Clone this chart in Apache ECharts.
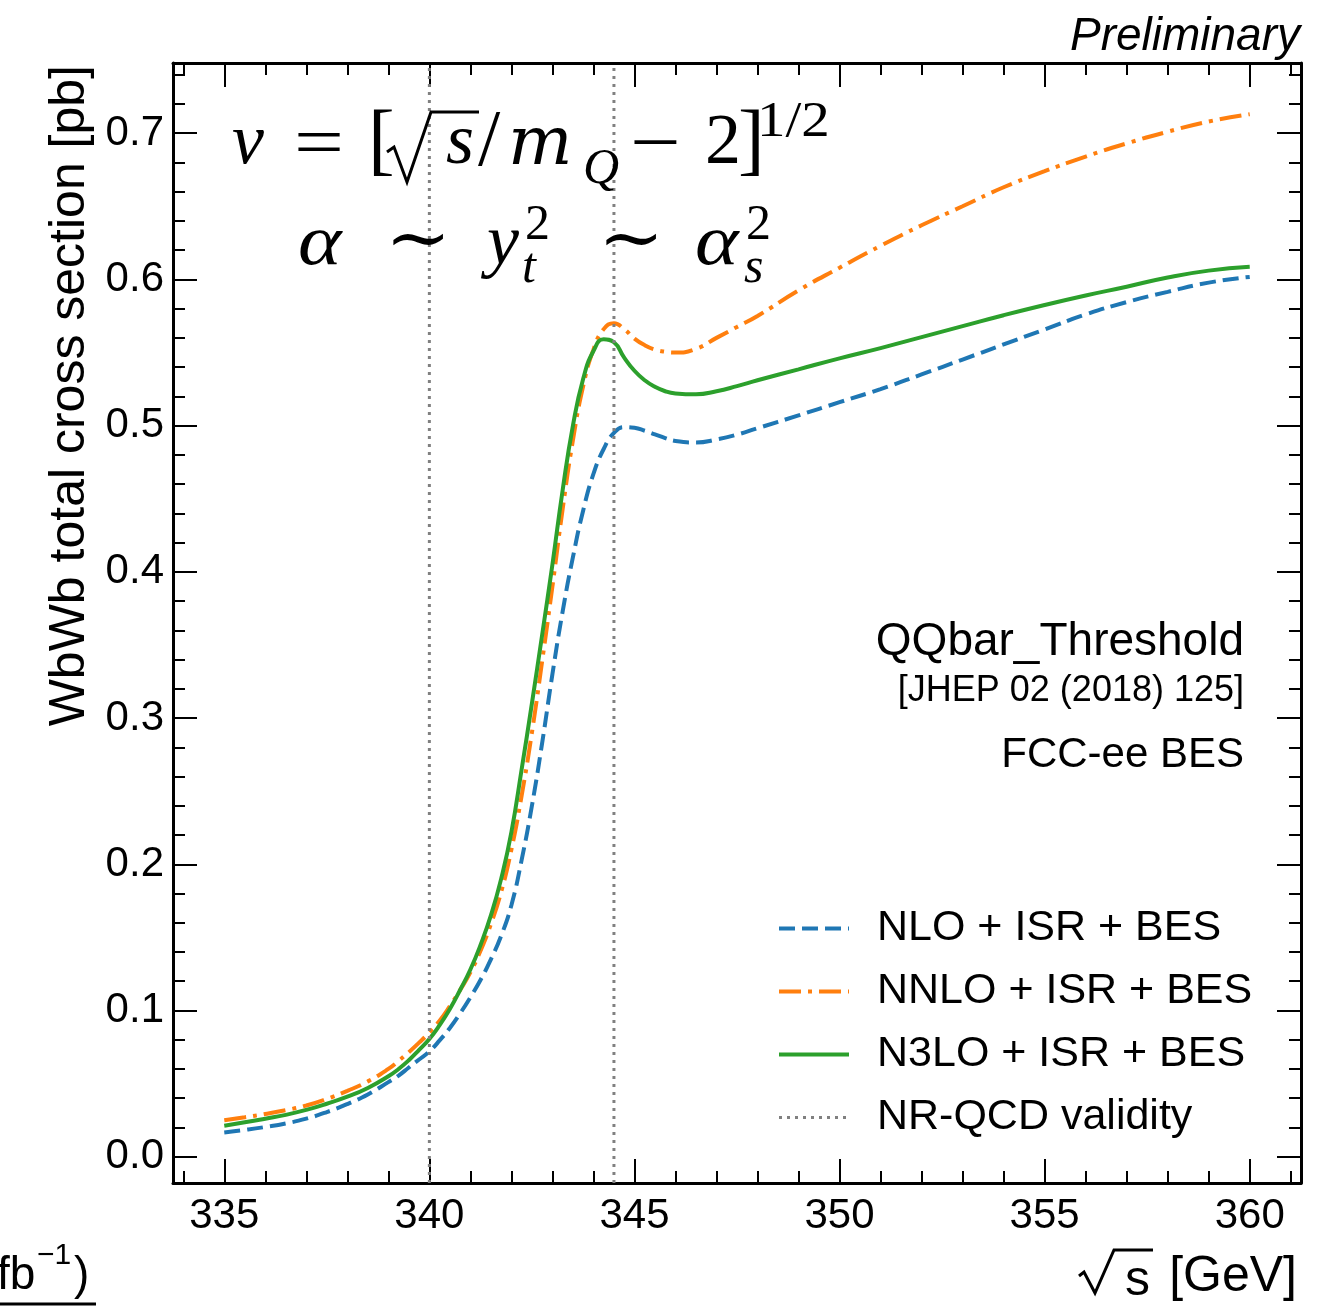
<!DOCTYPE html>
<html><head><meta charset="utf-8">
<script src="https://cdn.jsdelivr.net/npm/echarts@6/dist/echarts.min.js"></script>
<style>html,body{margin:0;padding:0;background:#fff}#c{width:1333px;height:1309px}</style>
</head><body><div id="c"></div>
<script>
// ---- data ----
const energies = [335,335.5,336,336.5,337,337.5,338,338.5,339,
  339.25,339.5,339.75,340,340.25,340.5,340.75,341,341.25,341.5,341.75,342,342.25,342.5,342.75,
  343,343.25,343.5,343.75,344,344.25,344.5,344.75,345,345.25,345.5,345.75,346,
  346.5,347,347.5,348,
  349,350,351,352,353,354,355,356,357,358,359,360];
const nloXsec = [0.0166,0.0183,0.0203,0.0227,0.026,0.0305,0.036,0.0425,0.051,
  0.0555,0.061,0.0665,0.072,0.0795,0.088,0.098,0.109,0.121,0.135,0.151,0.172,0.203,0.24,0.283,
  0.33,0.373,0.41,0.442,0.467,0.484,0.495,0.499,0.4985,0.4965,0.494,0.4915,0.4895,
  0.4885,0.4905,0.4938,0.4982,
  0.507,0.516,0.525,0.535,0.5452,0.5555,0.5658,0.576,0.5845,0.5915,0.5978,0.6017];
const nnloXsec = [0.0249,0.027,0.0292,0.0318,0.035,0.0395,0.045,0.0515,0.060,
  0.0655,0.0715,0.078,0.085,0.093,0.103,0.114,0.126,0.141,0.159,0.181,0.210,0.247,0.29,0.339,
  0.39,0.443,0.49,0.527,0.552,0.566,0.570,0.566,0.5595,0.555,0.552,0.5505,0.550,
  0.5525,0.560,0.5675,0.575,
  0.5925,0.608,0.623,0.637,0.650,0.663,0.674,0.684,0.693,0.701,0.708,0.713];
const n3loXsec = [0.0212,0.0235,0.026,0.0286,0.032,0.0362,0.041,0.047,0.055,
  0.060,0.066,0.073,0.0805,0.090,0.101,0.114,0.128,0.145,0.165,0.19,0.222,0.265,0.31,0.357,
  0.405,0.456,0.50,0.532,0.551,0.559,0.557,0.5465,0.5375,0.531,0.5265,0.5235,0.522,
  0.5214,0.5235,0.527,0.531,
  0.5385,0.546,0.553,0.5605,0.568,0.5755,0.5825,0.589,0.595,0.6013,0.606,0.6086];
const nrqcdBounds = [340, 344.5];
const seriesNames = ['NLO + ISR + BES','NNLO + ISR + BES','N3LO + ISR + BES','NR-QCD validity'];
const xMajorTicks = [335,340,345,350,355,360];
const xMinorTicks = [334,335,336,337,338,339,340,341,342,343,344,345,346,347,348,349,350,351,352,353,354,355,356,357,358,359,360,361];
const yMajorTicks = [0,0.1,0.2,0.3,0.4,0.5,0.6,0.7];
const yMinorTicks = [0,0.02,0.04,0.06,0.08,0.1,0.12,0.14,0.16,0.18,0.2,0.22,0.24,0.26,0.28,0.3,0.32,0.34,0.36,0.38,0.4,0.42,0.44,0.46,0.48,0.5,0.52,0.54,0.56,0.58,0.6,0.62,0.64,0.66,0.68,0.7,0.72,0.74];
const xRange = [333.75, 361.25];
const yRange = [-0.018, 0.748];

// ---- chart ----
const SANS = '"Liberation Sans", Arial, sans-serif';
const SERIF = '"Liberation Serif", "DejaVu Serif", serif';
const pair = ys => energies.map((x, i) => [x, ys[i]]);
const vlines = [];
nrqcdBounds.forEach((b, i) => {
  if (i > 0) vlines.push([(nrqcdBounds[i-1] + b) / 2, '-']);
  vlines.push([b, yRange[0]]); vlines.push([b, yRange[1]]);
});

function xAxisDef(pos, ticks, len, labels, line) {
  return {
    type: 'value', position: pos, min: xRange[0], max: xRange[1], offset: 0,
    axisLine: {show: line, onZero: false, lineStyle: {color: '#000', width: 3}},
    axisTick: {show: true, inside: true, length: len, customValues: ticks, lineStyle: {color: '#000', width: 2}},
    axisLabel: labels ? {show: true, customValues: xMajorTicks, fontSize: 42, fontFamily: SANS, color: '#000', margin: 12} : {show: false},
    splitLine: {show: false}
  };
}
function yAxisDef(pos, ticks, len, labels, line) {
  return {
    type: 'value', position: pos, min: yRange[0], max: yRange[1], offset: 0,
    axisLine: {show: line, onZero: false, lineStyle: {color: '#000', width: 3}},
    axisTick: {show: true, inside: true, length: len, customValues: ticks, lineStyle: {color: '#000', width: 2}},
    axisLabel: labels ? {show: true, customValues: yMajorTicks, fontSize: 42, fontFamily: SANS, color: '#000', margin: 9,
      formatter: v => v.toFixed(1)} : {show: false},
    splitLine: {show: false}
  };
}

function txt(text, x, y, size, opts) {
  opts = opts || {};
  return {type: 'text', x: x, y: y, rotation: opts.rot || 0, scaleX: opts.sx || 1, z: 100,
    style: {text: text, fill: '#000',
      font: (opts.italic ? 'italic ' : '') + size + 'px ' + (opts.family || SANS),
      align: opts.align || 'left', verticalAlign: opts.va || 'middle'}};
}
function ln(x1, y1, x2, y2, w) {
  return {type: 'line', z: 100, shape: {x1, y1, x2, y2}, style: {stroke: '#000', lineWidth: w}};
}
function poly(points, w) {
  return {type: 'polyline', z: 100, shape: {points}, style: {stroke: '#000', lineWidth: w, fill: null, lineJoin: 'miter'}};
}
const MI = {italic: true, family: SERIF};
const MR = {family: SERIF};

const graphics = [
  txt('Preliminary', 1300, 37, 46, {italic: true, align: 'right'}),
  txt('WbWb total cross section [pb]', 70, 65, 50, {rot: Math.PI / 2, align: 'right'}),
  txt('[GeV]', 1297, 1277, 50, {align: 'right'}),
  txt('s', 1150, 1281, 50, {align: 'right'}),
  poly([[1079, 1276], [1084, 1272], [1095, 1293], [1114, 1250], [1153, 1250]], 3),
  txt('QQbar_Threshold', 1244, 642, 46, {align: 'right'}),
  txt('[JHEP 02 (2018) 125]', 1244, 691, 36, {align: 'right'}),
  txt('FCC-ee BES', 1244, 755, 42, {align: 'right'}),
  // cut-off text in lower-left corner
  txt('fb', -3, 1276, 46),
  txt('\u22121', 37, 1256, 30),
  txt(')', 74, 1276, 46),
  ln(0, 1304, 96, 1304, 3),
  // formula line 1
  txt('v', 232, 144, 72, MI),
  txt('=', 294, 147, 72, {family: SERIF, sx: 1.23}),
  txt('[', 368, 144, 80, MR),
  poly([[387, 152], [394, 147], [407, 182], [431, 112], [479, 112]], 3),
  txt('s', 446, 144, 72, MI),
  txt('/', 478, 144, 80, MR),
  txt('m', 508, 146, 68, {italic: true, family: '"DejaVu Serif", serif'}),
  txt('Q', 583, 170, 50, MI),
  txt('\u2212', 630, 147, 72, {family: SERIF, sx: 1.25}),
  txt('2', 705, 144, 72, MR),
  txt(']', 738, 144, 80, MR),
  txt('1/2', 757, 123, 50, {family: SERIF, sx: 1.14}),
  // formula line 2
  txt('\u03B1', 298, 245, 72, {italic: true, family: SERIF, sx: 1.15}),
  txt('\u223C', 385, 243, 72, {family: SERIF, sx: 1.1}),
  txt('y', 487, 245, 72, MI),
  txt('t', 522, 269, 50, MI),
  txt('2', 525, 226, 50, MR),
  txt('\u223C', 598, 243, 72, {family: SERIF, sx: 1.1}),
  txt('\u03B1', 695, 245, 72, {italic: true, family: SERIF, sx: 1.15}),
  txt('s', 744, 269, 50, MI),
  txt('2', 746, 226, 50, MR)
];

const option = {
  animation: false,
  backgroundColor: '#fff',
  grid: {left: 173, right: 32, top: 63, bottom: 126, containLabel: false},
  xAxis: [
    xAxisDef('bottom', xMajorTicks, 24, true, true),
    xAxisDef('bottom', xMinorTicks, 12, false, false),
    xAxisDef('top', xMajorTicks, 24, false, true),
    xAxisDef('top', xMinorTicks, 12, false, false)
  ],
  yAxis: [
    yAxisDef('left', yMajorTicks, 24, true, true),
    yAxisDef('left', yMinorTicks, 12, false, false),
    yAxisDef('right', yMajorTicks, 24, false, true),
    yAxisDef('right', yMinorTicks, 12, false, false)
  ],
  legend: {
    orient: 'vertical', left: 772, top: 902, itemWidth: 70, itemHeight: 20, itemGap: 20,
    itemStyle: {opacity: 0},
    lineStyle: {width: 'inherit'},
    textStyle: {fontSize: 43, fontFamily: SANS, color: '#000', lineHeight: 42, padding: [0, 0, 0, 23]},
    data: seriesNames
  },
  series: [
    {name: seriesNames[0], type: 'line', data: pair(nloXsec), smooth: 0.5, symbol: 'none', showSymbol: false,
      color: '#1f77b4', lineStyle: {color: '#1f77b4', width: 4, type: [16, 7]}},
    {name: seriesNames[1], type: 'line', data: pair(nnloXsec), smooth: 0.5, symbol: 'none', showSymbol: false,
      color: '#ff7f0e', lineStyle: {color: '#ff7f0e', width: 4, type: [22, 7, 4, 7]}},
    {name: seriesNames[2], type: 'line', data: pair(n3loXsec), smooth: 0.5, symbol: 'none', showSymbol: false,
      color: '#2ca02c', lineStyle: {color: '#2ca02c', width: 4}},
    {name: seriesNames[3], type: 'line', data: vlines, symbol: 'none', showSymbol: false, connectNulls: false,
      color: '#808080', lineStyle: {color: '#808080', width: 3, type: [3, 5]}}
  ],
  graphic: graphics
};
const chart = echarts.init(document.getElementById('c'));
chart.setOption(option);
</script>
</body></html>
